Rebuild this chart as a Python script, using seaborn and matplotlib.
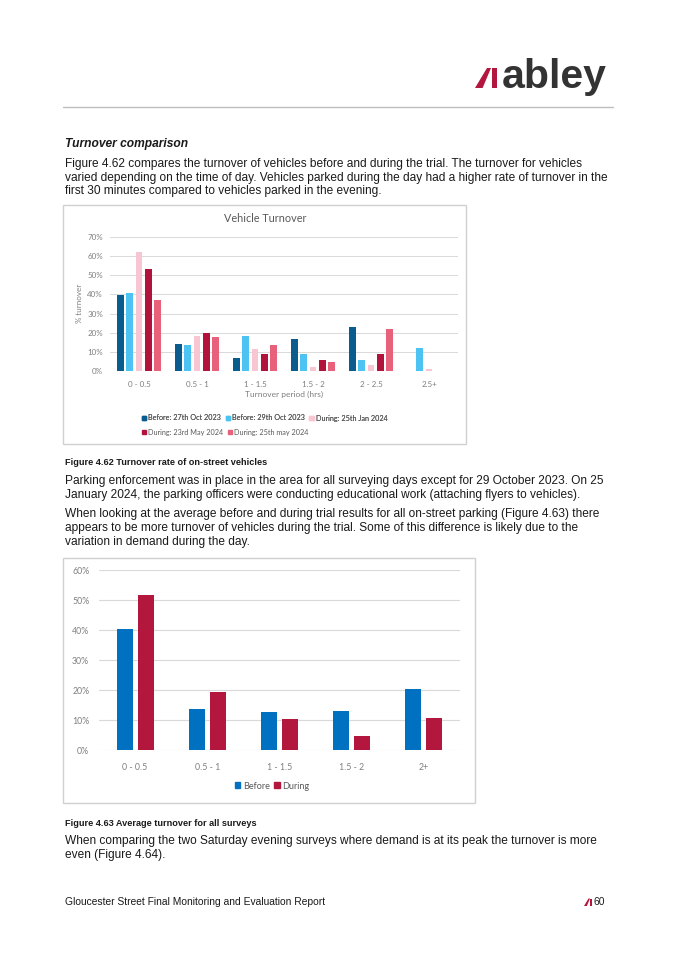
import numpy as np
import pandas as pd
import matplotlib.pyplot as plt
import seaborn as sns
from matplotlib.patches import Patch, Rectangle, Polygon

sns.set_theme(style="white")
plt.rcParams['font.family'] = ['Liberation Sans', 'DejaVu Sans']

# Figure 4.62 - vehicle turnover per survey day (%)
periods_1 = ['0 - 0.5', '0.5 - 1', '1 - 1.5', '1.5 - 2', '2 - 2.5', '2.5+']
surveys_1 = ['Before: 27th Oct 2023', 'Before: 29th Oct 2023', 'During: 25th Jan 2024',
             'During: 23rd May 2024', 'During: 25th may 2024']
before_27oct = [39.5, 14.0, 7.0, 16.5, 23.0, 0.0]
before_29oct = [41.0, 13.5, 18.5, 9.0, 6.0, 12.0]
during_25jan = [62.0, 18.5, 11.5, 2.0, 3.2, 1.0]
during_23may = [53.5, 20.0, 8.7, 6.0, 8.7, 0.0]
during_25may = [37.0, 17.5, 13.5, 4.8, 22.0, 0.0]
colors_1 = ['#0A5B8E', '#4DC3F4', '#F8C6D2', '#B1133C', '#E8617B']

# Figure 4.63 - average turnover (%)
periods_2 = ['0 - 0.5', '0.5 - 1', '1 - 1.5', '1.5 - 2', '2+']
groups_2 = ['Before', 'During']
avg_before = [40.2, 13.8, 12.7, 12.9, 20.5]
avg_during = [51.8, 19.2, 10.3, 4.7, 10.7]
colors_2 = ['#0070C0', '#B3173D']

W, H = 675, 955
CHART_FONT = ['Lato', 'DejaVu Sans']
GREY = '#7f7f7f'
TXT = '#1a1a1a'
BODY = 8.6


def fx(x):
    return x / W


def fy(y):
    return 1 - y / H


def logo_mark(fig, x0, y0, s):
    # red slanted stroke + bar, s = height in px
    slant = [(x0, y0), (x0 + 0.38 * s, y0), (x0 + 0.8 * s, y0 - s), (x0 + 0.6 * s, y0 - s)]
    bar = [(x0 + 0.86 * s, y0), (x0 + 1.1 * s, y0), (x0 + 1.1 * s, y0 - s), (x0 + 0.86 * s, y0 - s)]
    for pts in (slant, bar):
        fig.patches.append(Polygon([(fx(a), fy(b)) for a, b in pts], closed=True,
                                   transform=fig.transFigure, color='#B3173D', lw=0))


fig = plt.figure(figsize=(W / 100, H / 100), dpi=100)
fig.patch.set_facecolor('white')

# header
logo_mark(fig, 475, 88, 20)
fig.text(fx(502), fy(88), 'abley', fontsize=29.5, fontweight='bold', color='#333333',
         va='baseline', ha='left', family=['Liberation Sans'])
fig.add_artist(plt.Line2D([fx(63), fx(613)], [fy(107.5), fy(107.5)], color='#bdbdbd', lw=1,
                          transform=fig.transFigure))

# body text
fig.text(fx(65), fy(144), 'Turnover comparison', fontsize=8.65, fontweight='bold', style='italic',
         color=TXT, va='center')
para1 = ['Figure 4.62 compares the turnover of vehicles before and during the trial. The turnover for vehicles',
         'varied depending on the time of day. Vehicles parked during the day had a higher rate of turnover in the',
         'first 30 minutes compared to vehicles parked in the evening.']
for i, line in enumerate(para1):
    fig.text(fx(65), fy(164 + i * 13.6), line, fontsize=BODY, color=TXT, va='center')

fig.text(fx(65), fy(462), 'Figure 4.62 Turnover rate of on-street vehicles', fontsize=6.6,
         fontweight='bold', color=TXT, va='center')
para2 = ['Parking enforcement was in place in the area for all surveying days except for 29 October 2023. On 25',
         'January 2024, the parking officers were conducting educational work (attaching flyers to vehicles).']
for i, line in enumerate(para2):
    fig.text(fx(65), fy(481 + i * 13.6), line, fontsize=BODY, color=TXT, va='center')
para3 = ['When looking at the average before and during trial results for all on-street parking (Figure 4.63) there',
         'appears to be more turnover of vehicles during the trial. Some of this difference is likely due to the',
         'variation in demand during the day.']
for i, line in enumerate(para3):
    fig.text(fx(65), fy(514 + i * 13.8), line, fontsize=BODY, color=TXT, va='center')

fig.text(fx(65), fy(823), 'Figure 4.63 Average turnover for all surveys', fontsize=6.6,
         fontweight='bold', color=TXT, va='center')
para4 = ['When comparing the two Saturday evening surveys where demand is at its peak the turnover is more',
         'even (Figure 4.64).']
for i, line in enumerate(para4):
    fig.text(fx(65), fy(841 + i * 14), line, fontsize=BODY, color=TXT, va='center')

# footer
fig.text(fx(65), fy(902), 'Gloucester Street Final Monitoring and Evaluation Report', fontsize=7.35,
         color=TXT, va='center')
logo_mark(fig, 584, 906, 7.5)
fig.text(fx(593), fy(902), '60', fontsize=7.35, color=TXT, va='center')

# chart frames
for (x0, y0, x1, y1) in [(63, 205, 466, 444), (63, 558, 475, 803)]:
    fig.patches.append(Rectangle((fx(x0), fy(y1)), fx(x1) - fx(x0), (y1 - y0) / H,
                                 transform=fig.transFigure, fill=False, ec='#d0d0d0', lw=1))

# ---- chart 1
df1 = pd.DataFrame({
    'period': np.tile(periods_1, len(surveys_1)),
    'survey': np.repeat(surveys_1, len(periods_1)),
    'value': before_27oct + before_29oct + during_25jan + during_23may + during_25may,
})
ax1 = fig.add_axes([fx(110), fy(371), fx(458) - fx(110), (371 - 237) / H])
sns.barplot(data=df1, x='period', y='value', hue='survey', hue_order=surveys_1, order=periods_1,
            palette=colors_1, saturation=1, width=0.8, gap=0.28, legend=False, ax=ax1,
            linewidth=0, errorbar=None)
ax1.set_ylim(0, 70)
ax1.set_yticks(range(0, 71, 10))
ax1.set_yticklabels([f'{v}%' for v in range(0, 71, 10)])
ax1.set_xlim(-0.5, len(periods_1) - 0.5)
ax1.grid(axis='y', color='#d9d9d9', lw=0.7)
ax1.set_axisbelow(True)
for s in ax1.spines.values():
    s.set_visible(False)
ax1.tick_params(axis='y', length=0, labelsize=5.8, labelcolor=GREY, pad=5)
ax1.tick_params(axis='x', length=0, labelsize=5.8, labelcolor=GREY, pad=7)
for lab in ax1.get_xticklabels() + ax1.get_yticklabels():
    lab.set_family(CHART_FONT)
ax1.set_xlabel('')
ax1.set_ylabel('')
fig.text(fx(265), fy(219), 'Vehicle Turnover', fontsize=7.8, color='#595959', ha='center',
         va='center', family=CHART_FONT)
fig.text(fx(80), fy(303), '% turnover', fontsize=5.8, color=GREY, ha='center', va='center',
         rotation=90, family=CHART_FONT)
fig.text(fx(284), fy(394), 'Turnover period (hrs)', fontsize=6, color=GREY, ha='center',
         va='center', family=CHART_FONT)

hs = [Patch(color=c) for c in colors_1]
leg_kw = dict(frameon=False, ncol=3, handlelength=0.6, handleheight=0.6, handletextpad=0.3,
              columnspacing=0.6, borderpad=0, borderaxespad=0,
              prop={'family': CHART_FONT, 'size': 5.2}, labelcolor='#595959')
legA = fig.legend(hs[:3], surveys_1[:3], loc='center left', bbox_to_anchor=(fx(142), fy(418)), **leg_kw)
fig.legend(hs[3:], surveys_1[3:], loc='center left', bbox_to_anchor=(fx(142), fy(432)), **leg_kw)
fig.add_artist(legA)

# ---- chart 2
df2 = pd.DataFrame({
    'period': np.tile(periods_2, len(groups_2)),
    'group': np.repeat(groups_2, len(periods_2)),
    'value': avg_before + avg_during,
})
ax2 = fig.add_axes([fx(99), fy(750), fx(460) - fx(99), (750 - 570) / H])
sns.barplot(data=df2, x='period', y='value', hue='group', hue_order=groups_2, order=periods_2,
            palette=colors_2, saturation=1, width=0.58, gap=0.24, legend=False, ax=ax2,
            linewidth=0, errorbar=None)
ax2.set_ylim(0, 60)
ax2.set_yticks(range(0, 61, 10))
ax2.set_yticklabels([f'{v}%' for v in range(0, 61, 10)])
ax2.set_xlim(-0.5, len(periods_2) - 0.5)
ax2.grid(axis='y', color='#d9d9d9', lw=0.8)
ax2.set_axisbelow(True)
for s in ax2.spines.values():
    s.set_visible(False)
ax2.tick_params(axis='y', length=0, labelsize=6.3, labelcolor=GREY, pad=7)
ax2.tick_params(axis='x', length=0, labelsize=6.3, labelcolor=GREY, pad=9)
for lab in ax2.get_xticklabels() + ax2.get_yticklabels():
    lab.set_family(CHART_FONT)
ax2.set_xlabel('')
ax2.set_ylabel('')
fig.legend([Patch(color=c) for c in colors_2], groups_2, frameon=False, ncol=2, loc='center',
           bbox_to_anchor=(fx(272), fy(786)), handlelength=0.6, handleheight=0.6,
           handletextpad=0.3, columnspacing=0.5, borderpad=0,
           prop={'family': CHART_FONT, 'size': 6.5}, labelcolor='#595959')

fig.savefig('out.png', dpi=100, facecolor='white')
